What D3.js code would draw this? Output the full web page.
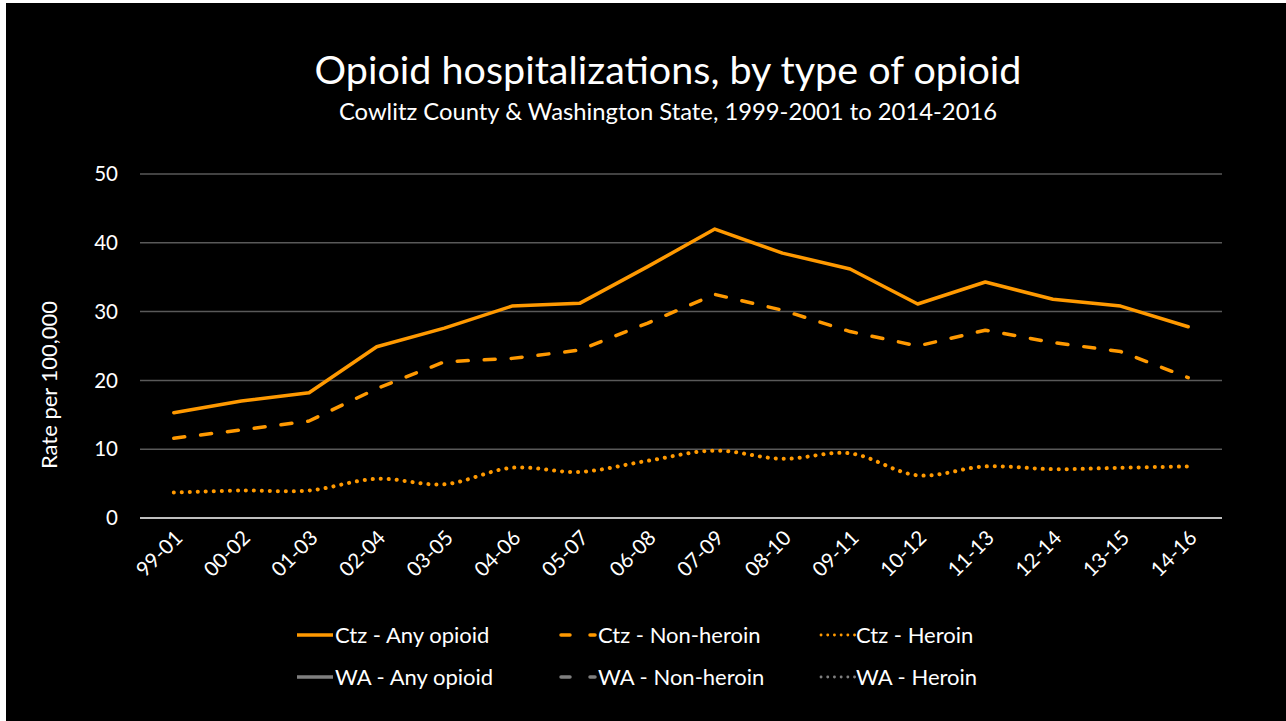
<!DOCTYPE html>
<html>
<head>
<meta charset="utf-8">
<script src="https://cdn.jsdelivr.net/npm/d3@7"></script>
<style>
  html, body { margin: 0; padding: 0; background: #ffffff; }
  svg { display: block; }
  text { font-family: Lato, "Open Sans", sans-serif; fill: #ffffff; }
</style>
</head>
<body>
<svg id="chart" width="1286" height="721"></svg>
<script>
const categories = ["99-01","00-02","01-03","02-04","03-05","04-06","05-07","06-08","07-09","08-10","09-11","10-12","11-13","12-14","13-15","14-16"];
const ctzAny      = [15.3, 17.0, 18.2, 24.9, 27.6, 30.8, 31.2, 36.5, 42.0, 38.5, 36.2, 31.1, 34.3, 31.8, 30.8, 27.8];
const ctzNonHeroin = [11.6, 12.8, 14.1, 18.8, 22.7, 23.2, 24.4, 28.3, 32.5, 30.2, 27.1, 25.0, 27.3, 25.5, 24.2, 20.4];
const ctzHeroin   = [3.7, 4.0, 4.0, 5.7, 4.9, 7.3, 6.7, 8.3, 9.8, 8.6, 9.4, 6.2, 7.5, 7.1, 7.3, 7.5];
const yTicks = [0, 10, 20, 30, 40, 50];
const legendLabels = ["Ctz - Any opioid", "Ctz - Non-heroin", "Ctz - Heroin", "WA - Any opioid", "WA - Non-heroin", "WA - Heroin"];

const ORANGE = "#ff9900";
const GREY = "#7f7f7f";

const svg = d3.select("#chart");
svg.append("rect").attr("x", 6).attr("y", 3).attr("width", 1280).attr("height", 718).attr("fill", "#000");

const margin = {left: 140, right: 1222, top: 174, bottom: 518};
const x = d3.scalePoint().domain(categories).range([margin.left, margin.right]).padding(0.5);
const y = d3.scaleLinear().domain([0, 50]).range([margin.bottom, margin.top]);

// gridlines
svg.append("g").selectAll("line").data(yTicks.filter(d => d > 0)).join("line")
  .attr("x1", margin.left).attr("x2", margin.right)
  .attr("y1", d => y(d)).attr("y2", d => y(d))
  .attr("stroke", "#595959").attr("stroke-width", 1.5);
svg.append("line").attr("x1", margin.left).attr("x2", margin.right)
  .attr("y1", y(0)).attr("y2", y(0)).attr("stroke", "#ffffff").attr("stroke-width", 1.5);

// y axis labels
svg.append("g").selectAll("text").data(yTicks).join("text")
  .attr("x", 118).attr("y", d => y(d)).attr("dy", "0.35em")
  .attr("text-anchor", "end").attr("font-size", 20.5).text(d => d);

// x axis labels
svg.append("g").selectAll("text").data(categories).join("text")
  .attr("transform", d => `translate(${x(d) + 5},${534}) rotate(-45)`)
  .attr("text-anchor", "end").attr("dy", "0.35em").attr("font-size", 20.5).text(d => d);

// y title
svg.append("text").attr("transform", `translate(57,385) rotate(-90)`)
  .attr("text-anchor", "middle").attr("font-size", 22).text("Rate per 100,000");

// title
svg.append("text").attr("x", 668).attr("y", 84).attr("text-anchor", "middle")
  .attr("font-size", 39.5).text("Opioid hospitalizations, by type of opioid");
svg.append("text").attr("x", 668).attr("y", 120).attr("text-anchor", "middle")
  .attr("font-size", 23.8).text("Cowlitz County & Washington State, 1999-2001 to 2014-2016");

// lines
const lineLinear = d3.line().x((d, i) => x(categories[i])).y(d => y(d));
const lineSmooth = d3.line().x((d, i) => x(categories[i])).y(d => y(d)).curve(d3.curveCatmullRom.alpha(0.5));

svg.append("path").datum(ctzAny).attr("d", lineLinear).attr("fill", "none")
  .attr("stroke", ORANGE).attr("stroke-width", 3.5).attr("stroke-linejoin", "round").attr("stroke-linecap", "round");
svg.append("path").datum(ctzNonHeroin).attr("d", lineLinear).attr("fill", "none")
  .attr("stroke", ORANGE).attr("stroke-width", 3.5).attr("stroke-dasharray", "11,16")
  .attr("stroke-linejoin", "round").attr("stroke-linecap", "round");
svg.append("path").datum(ctzHeroin).attr("d", lineSmooth).attr("fill", "none")
  .attr("stroke", ORANGE).attr("stroke-width", 4).attr("stroke-dasharray", "0.1,7.9")
  .attr("stroke-linecap", "round");

// legend
const colX = [297, 560, 818];
const rowY = [635, 677];
legendLabels.forEach((lab, i) => {
  const c = i % 3, r = Math.floor(i / 3);
  const col = r === 0 ? ORANGE : GREY;
  const g = svg.append("g");
  if (c === 0) {
    g.append("line").attr("x1", colX[c]).attr("x2", colX[c] + 36).attr("y1", rowY[r]).attr("y2", rowY[r])
      .attr("stroke", col).attr("stroke-width", 3.5);
  } else if (c === 1) {
    g.append("line").attr("x1", colX[c] + 1).attr("x2", colX[c] + 10).attr("y1", rowY[r]).attr("y2", rowY[r])
      .attr("stroke", col).attr("stroke-width", 3.5).attr("stroke-linecap", "round");
    g.append("line").attr("x1", colX[c] + 30).attr("x2", colX[c] + 35).attr("y1", rowY[r]).attr("y2", rowY[r])
      .attr("stroke", col).attr("stroke-width", 3.5).attr("stroke-linecap", "round");
  } else {
    g.append("line").attr("x1", colX[c] + 3).attr("x2", colX[c] + 37).attr("y1", rowY[r]).attr("y2", rowY[r])
      .attr("stroke", col).attr("stroke-width", 2.8).attr("stroke-dasharray", "0.1,6.6").attr("stroke-linecap", "round");
  }
  g.append("text").attr("x", colX[c] + 38).attr("y", rowY[r]).attr("dy", "0.35em")
    .attr("font-size", 22).text(lab);
});
</script>
</body>
</html>
